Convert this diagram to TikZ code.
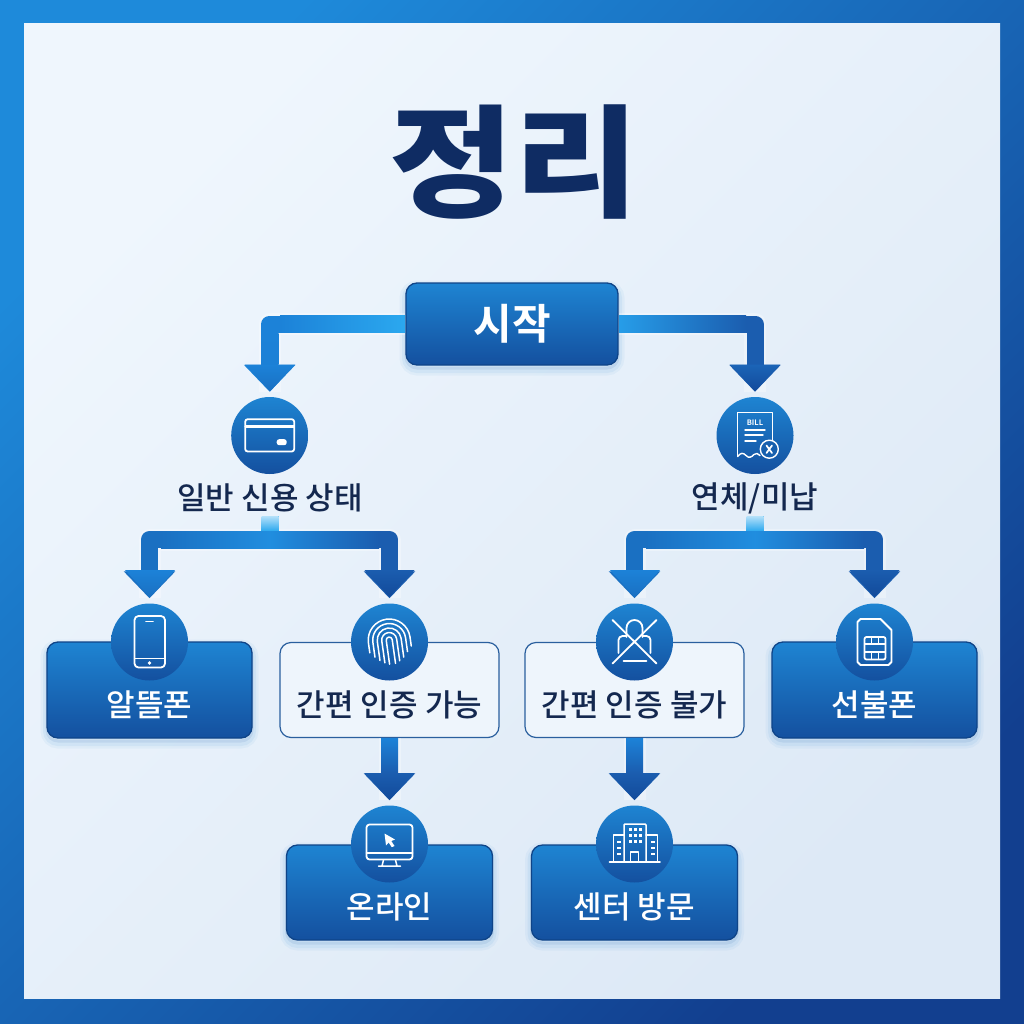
\documentclass[tikz,border=0pt]{standalone}
\usepackage{fontspec}
\setmainfont{Noto Sans CJK KR Medium}[BoldFont={Noto Sans CJK KR Bold}]
\newfontfamily\heavykr{Noto Sans CJK KR Black}
\usetikzlibrary{arrows.meta,calc,shapes.geometric}
\definecolor{cA}{HTML}{1E84D2}\definecolor{cB}{HTML}{14509F}
\definecolor{lite}{HTML}{2BA8EF}\definecolor{mid}{HTML}{1C82D8}\definecolor{midb}{HTML}{1A70C2}
\definecolor{deep}{HTML}{1B5DAF}\definecolor{deeper}{HTML}{124A9A}
\definecolor{ink}{HTML}{14284F}\definecolor{titleink}{HTML}{0F2C63}
\definecolor{edge}{HTML}{0F4488}\definecolor{thin}{HTML}{2A5F9E}\definecolor{paper}{HTML}{EEF5FC}
\definecolor{frameA}{HTML}{1E8ADA}\definecolor{frameB}{HTML}{123F8F}
\definecolor{panelA}{HTML}{EFF6FD}\definecolor{panelB}{HTML}{DDE9F6}
\newcommand\fsz[1]{\fontsize{#1}{#1}\selectfont}
\newcommand\lowered[1]{\raisebox{-26pt}[0pt][0pt]{#1}}
\newcommand\segH[5]{\shade[left color=#4,right color=#5] (#1,#3-8.5) rectangle (#2,#3+8.5);}
\newcommand\segV[5]{\shade[top color=#4,bottom color=#5] (#1-8.5,#2) rectangle (#1+8.5,#3);}
\newcommand\tipS[4]{\shade[top color=#3,bottom color=#4] (#1-25,#2-27) -- (#1+25,#2-27) -- (#1,#2) -- cycle;}
\tikzset{
  softshadow/.style={
    preaction={draw=cA,opacity=.05,line width=13pt,transform canvas={yshift=-4pt}},
    preaction={draw=cA,opacity=.07,line width=8pt,transform canvas={yshift=-4pt}},
    preaction={draw=cB,opacity=.09,line width=3pt,transform canvas={yshift=-3pt}}},
  solidbox/.style={draw=edge,line width=1.3pt,rounded corners=11pt,shade,top color=cA,bottom color=cB,
    inner sep=0pt,text=white,font=\fsz{31},softshadow},
  linebox/.style={draw=thin,line width=1.2pt,rounded corners=11pt,fill=paper,inner sep=0pt,text=ink,font=\fsz{31}},
  disc/.style={circle,minimum size=77pt,inner sep=0pt,shade,top color=cA,bottom color=cB},
  capt/.style={text=ink,inner sep=0pt,font=\fsz{31},minimum height=36pt},
  flow/.style={line join=round,preaction={draw=white,opacity=.3,line width=22pt,line join=round,-},draw=#1,line width=17pt,
    -{Triangle[width=50pt,length=27pt,fill=#1]},shorten >=5pt},
  stem/.style={draw=#1,line width=17pt},
  ico/.style={draw=white,line width=1.8pt,line cap=round,line join=round},
  icf/.style={fill=white,draw=none},
}
\begin{document}
\begin{tikzpicture}[x=1pt,y=-1pt]
\useasboundingbox (0,0) rectangle (1024,1024);
% frame and panel
\shade[top color=frameA,bottom color=frameB,shading angle=45] (0,0) rectangle (1024,1024);
\shade[top color=panelA,bottom color=panelB,shading angle=45] (24,24) rectangle (1000,998);
% title
\node[text=titleink,font=\heavykr\fsz{128},inner sep=0pt] (title) at (514,162) {\scalebox{1.06}[.95]{정리}};
% boxes
\node[solidbox,minimum width=212pt,minimum height=82pt,font=\fsz{42}\bfseries] (start) at (512,324) {시작};
\node[capt] (lblA) at (270,498) {일반 신용 상태};
\node[capt] (lblB) at (755,498) {연체/미납};
\node[solidbox,minimum width=205pt,minimum height=96pt] (mvno) at (149.5,690) {\lowered{알뜰폰}};
\node[linebox,minimum width=219pt,minimum height=95pt] (easy) at (389.5,690) {\lowered{간편 인증 가능}};
\node[linebox,minimum width=219pt,minimum height=95pt] (noeasy) at (634.5,690) {\lowered{간편 인증 불가}};
\node[solidbox,minimum width=205pt,minimum height=96pt] (prepaid) at (874.5,690) {\lowered{선불폰}};
\node[solidbox,minimum width=206pt,minimum height=95pt] (online) at (389.5,892.5) {\lowered{온라인}};
\node[solidbox,minimum width=206pt,minimum height=95pt] (center) at (634.5,892.5) {\lowered{센터 방문}};
% discs
\node[disc] (card) at (269.7,435.5) {};
\node[disc] (bill) at (755,435.5) {};
\node[disc] (phone) at (149.5,642) {};
\node[disc] (finger) at (389.5,642) {};
\node[disc] (lock) at (634.5,642) {};
\node[disc] (sim) at (874.5,642) {};
\node[disc] (monitor) at (389.5,844) {};
\node[disc] (tower) at (634.5,844) {};
\coordinate (ja) at (270,539.5);
\coordinate (jb) at (755,539.5);
% connectors
\draw[flow=mid] (start.west) -| (card.north);
\draw[flow=deep] (start.east) -| (bill.north);
\draw[stem=lite] (lblA.south) -- (ja);
\draw[stem=lite] (lblB.south) -- (jb);
\draw[flow=midb] (ja) -| (phone.north);
\draw[flow=deep] (ja) -| (finger.north);
\draw[flow=midb] (jb) -| (lock.north);
\draw[flow=deep] (jb) -| (sim.north);
\draw[flow=deep] (easy.south) -- (monitor.north);
\draw[flow=deep] (noeasy.south) -- (tower.north);
% gradients over the connectors
\segH{280}{405}{324}{mid}{lite}
\segV{270}{333}{364.5}{mid}{mid!90!midb}
\tipS{270}{391.5}{mid}{midb}
\segH{619}{746}{324}{lite!70!mid}{deep}
\tipS{755}{391.5}{deep!80!mid}{deeper}
\segV{270}{516}{531}{lite!35!white}{lite}
\segV{755}{516}{531}{lite!35!white}{lite}
\segH{161}{270}{539.5}{midb}{mid!70!lite}
\segH{270}{379}{539.5}{mid!70!lite}{deep}
\segH{646}{755}{539.5}{midb}{mid!70!lite}
\segH{755}{864}{539.5}{mid!70!lite}{deep}
\tipS{150}{597}{mid}{midb}
\tipS{389.5}{597}{deep}{deeper}
\tipS{635}{597}{mid}{midb}
\tipS{874.5}{597}{deep}{deeper}
\segV{389.5}{738}{773}{mid}{deep}
\segV{634.5}{738}{773}{mid}{deep}
\tipS{389.5}{800}{deep}{deeper}
\tipS{634.5}{800}{deep}{deeper}
% icons
\begin{scope}[shift={(card.center)}]
  \draw[ico,rounded corners=2.5pt] (-24.5,-16.3) rectangle (24.5,16);
  \draw[ico,line width=2.5pt] (-24,-9) -- (24,-9);
  \fill[icf,rounded corners=2.5pt] (7,3.7) rectangle (17,9.7);
\end{scope}
\begin{scope}[shift={(bill.center)}]
  \draw[ico,line width=1.4pt] (-17.5,21) -- (-17.5,-23.3) -- (17.5,-23.3) -- (17.5,12);
  \draw[ico,line width=1.4pt] (-17.5,21) .. controls (-14,17) and (-12,17) .. (-9,20) .. controls (-6,23) and (-4,22) .. (-1,19) .. controls (1,17) and (3,18) .. (5,20);
  \node[text=white,font=\fontsize{7.5}{8}\selectfont\bfseries,inner sep=0pt] (billword) at (0,-13) {BILL};
  \draw[ico,line width=1.4pt] (-10,-5.7) -- (10,-5.7) (-10,-.5) -- (8,-.5) (-10,5.3) -- (1,5.3);
  \draw[ico,fill=cB!70!cA,line width=1.4pt] (14.3,13.7) circle[radius=9];
  \draw[ico,line width=1.7pt] (11.5,10) -- (17,17.5) (17,10) -- (11.5,17.5);
\end{scope}
\begin{scope}[shift={(phone.center)}]
  \draw[ico,rounded corners=4pt] (-15,-26) rectangle (15.5,25.5);
  \draw[ico,line width=1.3pt] (-15,16.5) -- (15.5,16.5);
  \draw[ico,line width=1.8pt] (-3.5,-20.5) -- (3.5,-20.5);
  \fill[icf] (0,21) circle[radius=1.8];
\end{scope}
\begin{scope}[shift={(finger.center)},rotate=8,ico/.append style={line width=1.5pt}]
  \draw[ico] (-21,8) -- (-21,-2) arc[start angle=180,end angle=360,radius=21];
  \draw[ico] (21,-2) -- (21,7);
  \draw[ico] (-16.5,13) -- (-16.5,-2) arc[start angle=180,end angle=360,radius=16.5] -- (16.5,12);
  \draw[ico] (-12,17) -- (-12,-2) arc[start angle=180,end angle=360,radius=12] -- (12,17);
  \draw[ico] (-7.5,20) -- (-7.5,-2) arc[start angle=180,end angle=360,radius=7.5] -- (7.5,20);
  \draw[ico] (-3,22) -- (-3,-2) arc[start angle=180,end angle=360,radius=3] -- (3,22);
\end{scope}
\begin{scope}[shift={(lock.center)}]
  \draw[ico] (-8,-5) -- (-8,-14) arc[start angle=180,end angle=360,radius=8] -- (8,-5);
  \draw[ico,rounded corners=4pt] (-16,11) -- (-16,-6) -- (-8,-6);
  \draw[ico,rounded corners=4pt] (16,11) -- (16,-6) -- (8,-6);
  \draw[ico] (-11,19) -- (12,19);
  \draw[ico] (-22,-22) -- (22,21.5) (22,-22) -- (-22,21.5);
\end{scope}
\begin{scope}[shift={(sim.center)}]
  \draw[ico] (-14,-23) -- (6,-23) -- (17,-12) -- (17,20) -- (14,23) -- (-14,23) -- (-17,20) -- (-17,-20) -- cycle;
  \draw[ico,rounded corners=2pt] (-10,-5) rectangle (11,17.5);
  \draw[ico,line width=1.2pt] (-10,2) -- (11,2) (-10,10) -- (11,10) (-3,-5) -- (-3,2) (4,-5) -- (4,2) (-3,10) -- (-3,17.5) (4,10) -- (4,17.5);
\end{scope}
\begin{scope}[shift={(monitor.center)}]
  \draw[ico,rounded corners=3pt] (-23,-19.5) rectangle (23,15.5);
  \draw[ico] (-23,9) -- (23,9);
  \draw[ico,line width=1.5pt] (-6,16) -- (-7.5,22) (6,16) -- (7.5,22) (-11,22) -- (11,22);
  \fill[icf] (-5,-10.5) -- (5.5,-4.5) -- (1.8,-3) -- (5,2) -- (2.2,3.2) -- (-.8,-1.5) -- (-3.5,1.5) -- cycle;
\end{scope}
\begin{scope}[shift={(tower.center)}]
  \draw[ico,line width=1.5pt,rounded corners=1pt] (-10.5,18) -- (-10.5,-20) -- (11.5,-20) -- (11.5,18);
  \draw[ico,line width=1.5pt] (-10.5,-9) -- (-21,-9) -- (-21,18) (11.5,-9) -- (23,-9) -- (23,18);
  \draw[ico,line width=1.6pt] (-25,18) -- (25.5,18);
  \draw[ico,line width=1.5pt] (-4,18) -- (-4,8) -- (4,8) -- (4,18);
  \foreach \gx in {-6,-1,4.5}{\foreach \gy in {-16,-10,-4}{\fill[icf] (\gx,\gy) rectangle +(3.4,3.4);}}
  \foreach \gy in {-3,3,9}{\fill[icf] (-18,\gy) rectangle +(4,2.4);\fill[icf] (16,\gy) rectangle +(4,2.4);}
\end{scope}
\end{tikzpicture}
\end{document}
